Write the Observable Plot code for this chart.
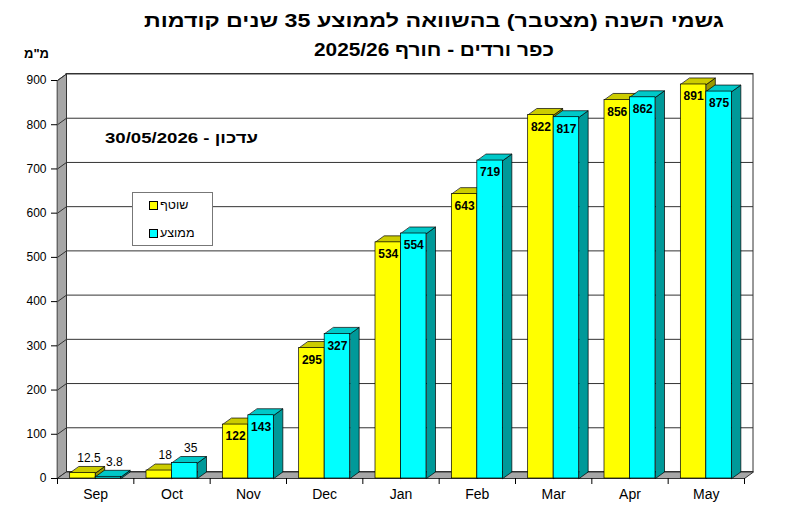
<!DOCTYPE html>
<html>
<head>
<meta charset="utf-8">
<script src="https://cdn.jsdelivr.net/npm/d3@7"></script>
<script src="https://cdn.jsdelivr.net/npm/@observablehq/plot@0.6"></script>
<style>
  html, body { margin: 0; padding: 0; background: #fff; }
  #wrap { position: relative; width: 800px; height: 514px; font-family: "Liberation Sans", Arial, sans-serif; }
  #legend { position: absolute; left: 132px; top: 192px; width: 79px; height: 52px; border: 1px solid #777; background: #fff; }
  .item { position: absolute; left: 16px; display: flex; align-items: center; font-size: 12.5px; direction: ltr; }
  .sw { width: 7px; height: 7px; border: 1px solid #000; margin-right: 2px; }
</style>
</head>
<body>
<div id="wrap"></div>
<script>
// ---- data ----
const months = ["Sep", "Oct", "Nov", "Dec", "Jan", "Feb", "Mar", "Apr", "May"];
const current = [12.5, 18, 122, 295, 534, 643, 822, 856, 891];   // שוטף
const average = [3.8, 35, 143, 327, 554, 719, 817, 862, 875];    // ממוצע
const seriesNames = ["שוטף", "ממוצע"];
const yTicks = [0, 100, 200, 300, 400, 500, 600, 700, 800, 900];
const titleText = "גשמי השנה (מצטבר) בהשוואה לממוצע 35 שנים קודמות";
const subtitleText = "כפר ורדים - חורף 2025/26";
const updateText = "עדכון - 30/05/2026";
const unitText = "מ\"מ";

// ---- styling ----
const frontColors = ["#ffff00", "#00ffff"];
const topColors = ["#cccc00", "#00c8c8"];
const sideColors = ["#999900", "#009999"];
const BW = 0.334;   // bar width in category units
const DX = 0.118;   // 3D depth (x, category units)
const DY = 14.7;    // 3D depth (y, mm units)
const yMax = yTicks[yTicks.length - 1];
const nCat = months.length;

const rows = months.flatMap((m, i) => [
  {i, s: 0, v: current[i], x1: i + 0.5 - BW, x2: i + 0.5},
  {i, s: 1, v: average[i], x1: i + 0.5, x2: i + 0.5 + BW}
]);
rows.forEach((r, k) => r.id = k);

const sidePts = s => rows.filter(r => r.s === s).flatMap(r =>
  [[r.x2, 0], [r.x2 + DX, DY], [r.x2 + DX, r.v + DY], [r.x2, r.v]].map(([x, y]) => ({id: r.id, x, y})));
const topPts = s => rows.filter(r => r.s === s).flatMap(r =>
  [[r.x1, r.v], [r.x2, r.v], [r.x2 + DX, r.v + DY], [r.x1 + DX, r.v + DY]].map(([x, y]) => ({id: r.id, x, y})));

const sideWall = [[0, 0], [DX, DY], [DX, yMax + DY], [0, yMax]].map(([x, y]) => ({x, y}));
const floor = [[0, 0], [nCat, 0], [nCat + DX, DY], [DX, DY]].map(([x, y]) => ({x, y}));

function barMarks(s) {
  const data = rows.filter(r => r.s === s);
  return [
    Plot.line(sidePts(s), {x: "x", y: "y", z: "id", fill: sideColors[s], stroke: "#000", strokeWidth: 0.7, curve: "linear-closed"}),
    Plot.line(topPts(s), {x: "x", y: "y", z: "id", fill: topColors[s], stroke: "#000", strokeWidth: 0.7, curve: "linear-closed"}),
    Plot.rect(data, {x1: "x1", x2: "x2", y1: 0, y2: "v", fill: frontColors[s], stroke: "#000", strokeWidth: 0.7})
  ];
}

const labelRows = rows.map(r => ({...r, cx: (r.x1 + r.x2) / 2, label: String(r.v)}));

const plot = Plot.plot({
  width: 800,
  height: 514,
  marginTop: 80,
  marginBottom: 36,
  marginLeft: 57,
  marginRight: 56,
  x: {type: "linear", domain: [0, nCat]},
  y: {type: "linear", domain: [0, yMax]},
  style: {fontFamily: "'Liberation Sans', Arial, sans-serif", fontSize: "12px", background: "#fff", color: "#000", overflow: "visible"},
  marks: [
    // back wall
    Plot.rect([0], {x1: DX, x2: nCat + DX, y1: DY, y2: yMax + DY, fill: "#fff", stroke: "#333", strokeWidth: 1}),
    Plot.ruleY(yTicks, {y: d => d + DY, x1: DX, x2: nCat + DX, stroke: "#333", strokeWidth: 1}),
    // side wall
    Plot.line(sideWall, {x: "x", y: "y", fill: "#a6a6a6", stroke: "#333", strokeWidth: 1, curve: "linear-closed"}),
    Plot.link(yTicks, {x1: 0, y1: d => d, x2: DX, y2: d => d + DY, stroke: "#333", strokeWidth: 1}),
    // floor
    Plot.line(floor, {x: "x", y: "y", fill: "#a6a6a6", stroke: "#333", strokeWidth: 1, curve: "linear-closed"}),
    // bars
    ...barMarks(0),
    ...barMarks(1),
    // value labels
    Plot.text(labelRows.filter(r => r.v >= 50), {x: "cx", y: "v", text: "label", dy: 12, fontSize: 12, fontWeight: "bold", fill: "#000"}),
    Plot.text(labelRows.filter(r => r.v < 50), {x: "cx", y: "v", text: "label", dy: -15, dx: 6, fontSize: 12, fill: "#000"}),
    // axes
    Plot.axisY(yTicks, {anchor: "left", tickSize: 6, tickPadding: 5, fontSize: 12, label: null}),
    Plot.axisX(d3.range(nCat + 1), {anchor: "bottom", tickSize: 6, tickFormat: () => "", label: null}),
    Plot.axisX(d3.range(nCat).map(i => i + 0.5), {anchor: "bottom", tickSize: 0, tickPadding: 11, fontSize: 14, tickFormat: d => months[Math.floor(d)], label: null}),
    // titles & notes
    Plot.text([titleText], {frameAnchor: "top", lineAnchor: "middle", textAnchor: "middle", dx: 33, dy: -59, fontSize: 18, fontWeight: "bold", fill: "#000"}),
    Plot.text([subtitleText], {frameAnchor: "top", lineAnchor: "middle", textAnchor: "middle", dx: 33, dy: -30, fontSize: 18, fontWeight: "bold", fill: "#000"}),
    Plot.text([updateText], {frameAnchor: "top-left", lineAnchor: "middle", textAnchor: "middle", dx: 124, dy: 58, fontSize: 15, fontWeight: "bold", fill: "#000"}),
    Plot.text([unitText], {frameAnchor: "top-left", lineAnchor: "middle", textAnchor: "middle", dx: -21, dy: -27, fontSize: 13, fontWeight: "bold", fill: "#000"})
  ]
});

// right-to-left text handling and widths
const lengths = new Map([[titleText, 580], [subtitleText, 240], [updateText, 153]]);
plot.querySelectorAll("text").forEach(t => {
  const s = t.textContent;
  if (/[\u0590-\u05FF]/.test(s)) {
    t.setAttribute("direction", "rtl");
    t.setAttribute("unicode-bidi", "embed");
    if (lengths.has(s)) {
      t.setAttribute("textLength", lengths.get(s));
      t.setAttribute("lengthAdjust", "spacingAndGlyphs");
    }
  }
});

const wrap = document.getElementById("wrap");
wrap.appendChild(plot);

// legend
const legend = document.createElement("div");
legend.id = "legend";
seriesNames.forEach((name, s) => {
  const item = document.createElement("div");
  item.className = "item";
  item.style.top = (s === 0 ? 5 : 33) + "px";
  const sw = document.createElement("div");
  sw.className = "sw";
  sw.style.background = frontColors[s];
  const tx = document.createElement("span");
  tx.textContent = name;
  tx.style.direction = "rtl";
  item.appendChild(sw);
  item.appendChild(tx);
  legend.appendChild(item);
});
wrap.appendChild(legend);
</script>
</body>
</html>
